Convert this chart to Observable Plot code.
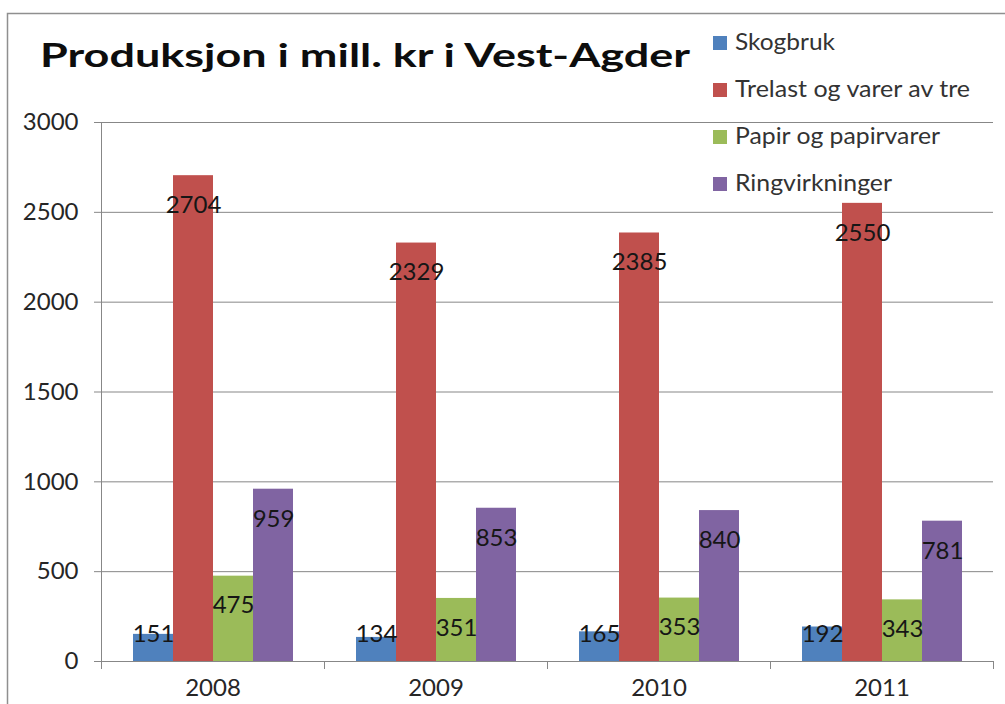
<!DOCTYPE html>
<html>
<head>
<meta charset="utf-8">
<script src="https://cdn.jsdelivr.net/npm/d3@7"></script>
<script src="https://cdn.jsdelivr.net/npm/@observablehq/plot@0.6"></script>
<style>
  html, body { margin: 0; padding: 0; background: #fff; }
  #wrap { position: relative; width: 1005px; height: 704px; overflow: hidden; background: #fff; }
  #wrap svg { position: absolute; left: 0; top: 0; }
</style>
</head>
<body>
<div id="wrap"></div>
<script>
// ---- data ----
const years = ["2008", "2009", "2010", "2011"];
const series = ["Skogbruk", "Trelast og varer av tre", "Papir og papirvarer", "Ringvirkninger"];
const skogbruk = [151, 134, 165, 192];
const trelast = [2704, 2329, 2385, 2550];
const papir = [475, 351, 353, 343];
const ringvirkninger = [959, 853, 840, 781];
const yTicks = [0, 500, 1000, 1500, 2000, 2500, 3000];
const colors = ["#4F81BD", "#C0504D", "#9BBB59", "#8064A2"];
const title = "Produksjon i mill. kr i Vest-Agder";

const valuesBySeries = [skogbruk, trelast, papir, ringvirkninger];
const rows = [];
years.forEach((year, i) => {
  series.forEach((s, j) => rows.push({ year, series: s, value: valuesBySeries[j][i] }));
});

const font = "Lato, 'Open Sans', sans-serif";
const gridColor = "#878787";
const textColor = "#262626";

const chart = Plot.plot({
  width: 1005,
  height: 704,
  marginTop: 122,
  marginBottom: 43,
  marginLeft: 100,
  marginRight: 12,
  style: { fontFamily: font, fontSize: "24px", color: textColor, background: "transparent", overflow: "visible" },
  fx: { domain: years, padding: 0, label: null },
  x: { domain: series, paddingInner: 0, paddingOuter: 0.736, axis: null, label: null },
  y: { domain: [0, 3000], label: null },
  color: { domain: series, range: colors },
  marks: [
    Plot.gridY(yTicks, { stroke: gridColor, strokeOpacity: 1, strokeWidth: 1 }),
    Plot.barY(rows, { fx: "year", x: "series", y: "value", fill: "series" }),
    Plot.text(rows, {
      fx: "year", x: "series",
      y: d => Math.max(d.value - 165, 150),
      text: d => String(d.value),
      fill: "#161616", fontSize: 24, fontFamily: font
    }),
    Plot.axisY(yTicks, { tickSize: 7, tickPadding: 16, stroke: gridColor, fill: textColor, fontSize: 24, label: null, tickFormat: d => String(d) }),
    Plot.axisFx({ anchor: "bottom", tickSize: 0, tickPadding: 17, fill: textColor, fontSize: 24, label: null })
  ]
});

const wrap = document.getElementById("wrap");
wrap.appendChild(chart);

// axis line and category-boundary ticks from the library's scales
const fx = chart.scale("fx");
const y = chart.scale("y");
const y0 = y.apply(0), yTop = y.apply(3000);
const bounds = fx.domain.map(d => fx.apply(d));
bounds.push(fx.apply(fx.domain[fx.domain.length - 1]) + fx.bandwidth);
const g = d3.select(chart).append("g").attr("stroke", gridColor).attr("stroke-width", 1);
bounds.forEach((b, i) => {
  const xb = Math.round(b) + 0.5;
  g.append("line").attr("x1", xb).attr("x2", xb)
    .attr("y1", i === 0 ? yTop : y0).attr("y2", y0 + 8);
});

// overlay: frame, title, legend
const color = chart.scale("color");
const ov = d3.select(wrap).append("svg")
  .attr("width", 1005).attr("height", 704)
  .style("font-family", font);

ov.append("path").attr("d", "M7.5,704 V13.5 H1005")
  .attr("fill", "none").attr("stroke", "#8f8f8f").attr("stroke-width", 1.5);

ov.append("text")
  .attr("x", 40).attr("y", 67)
  .attr("font-size", 33).attr("font-weight", 700).attr("fill", "#0d0d0d")
  .attr("textLength", 650).attr("lengthAdjust", "spacingAndGlyphs")
  .text(title);

const legendBaselines = [50, 97, 144, 191];
const legendWidths = [100, 235, 205, 157];
series.forEach((s, i) => {
  ov.append("rect")
    .attr("x", 713).attr("y", legendBaselines[i] - 14)
    .attr("width", 14).attr("height", 14)
    .attr("fill", color.apply(s));
  ov.append("text")
    .attr("x", 735).attr("y", legendBaselines[i])
    .attr("font-size", 24).attr("fill", "#333")
    .attr("textLength", legendWidths[i]).attr("lengthAdjust", "spacingAndGlyphs")
    .text(s);
});
</script>
</body>
</html>
